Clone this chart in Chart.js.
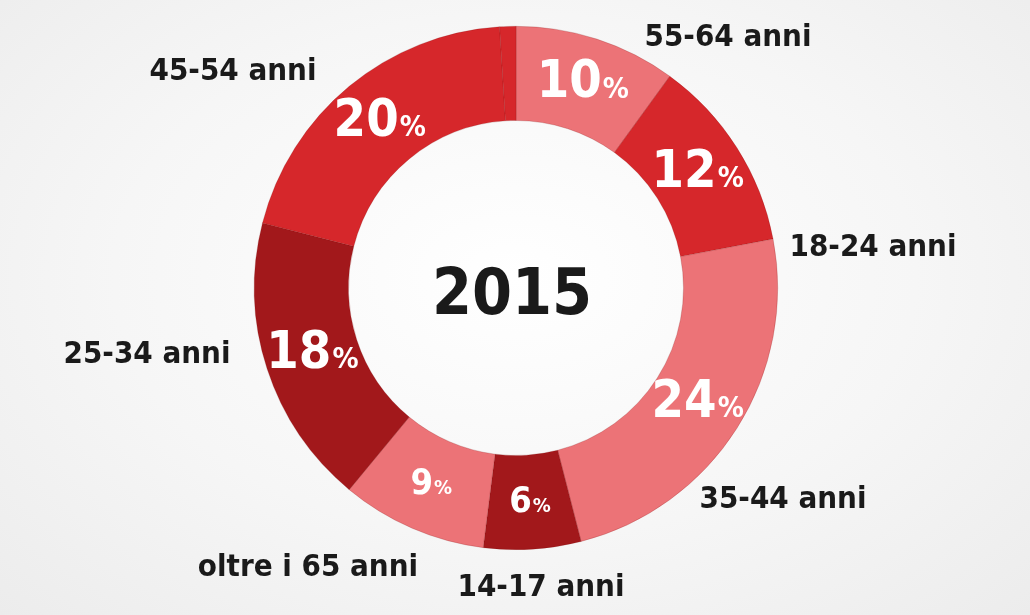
<!DOCTYPE html>
<html><head><meta charset="utf-8">
<script src="https://cdn.jsdelivr.net/npm/chart.js@4"></script>
<style>
html,body{margin:0;padding:0;}
body{width:1030px;height:615px;background:radial-gradient(ellipse at 50% 45%,#ffffff 0%,#f6f6f6 55%,#ececec 100%);}
#c{display:block;}
</style></head><body>
<canvas id="c" width="1030" height="615"></canvas>
<script>
const categories = ["55-64 anni","18-24 anni","35-44 anni","14-17 anni","oltre i 65 anni","25-34 anni","45-54 anni",""];
const values = [10,12,24,6,9,18,20,1];
const colors = ["#ec7377","#d6272b","#ec7377","#a2181b","#ec7377","#a2181b","#d6272b","#d6272b"];
const centerTitle = "2015";
const labelAnchors = [[728,38],[873,248],[783,500],[541,588],[308,568],[147,355],[233,72],null];
const FONT = '"Liberation Sans Narrow","DejaVu Sans Condensed","Roboto",sans-serif';

const textPlugin = {
  id:'texts',
  afterDatasetsDraw(chart){
    const ctx = chart.ctx;
    const meta = chart.getDatasetMeta(0);
    ctx.save();
    ctx.textBaseline='middle';
    meta.data.forEach((arc,i)=>{
      if(!categories[i]) return;
      const p = arc.tooltipPosition();
      const v = String(values[i]);
      const big = values[i]>=10 ? 52 : 36;
      ctx.font = 'bold '+big+'px '+FONT;
      const w1 = ctx.measureText(v).width;
      ctx.font = 'bold '+Math.round(big*0.55)+'px '+FONT;
      const w2 = ctx.measureText('%').width;
      const x0 = p.x-(w1+w2)/2;
      ctx.fillStyle='#ffffff';
      ctx.textAlign='left';
      ctx.font = 'bold '+big+'px '+FONT;
      ctx.fillText(v,x0,p.y);
      ctx.font = 'bold '+Math.round(big*0.55)+'px '+FONT;
      ctx.fillText('%',x0+w1+1,p.y+big*0.12);
      const a = labelAnchors[i];
      ctx.fillStyle='#1a1a1a';
      ctx.textAlign='center';
      ctx.font='bold 31px '+FONT;
      ctx.fillText(categories[i],a[0],a[1]);
    });
    const c = meta.data[0];
    ctx.fillStyle='#1a1a1a';
    ctx.textAlign='center';
    ctx.font='bold 64px '+FONT;
    ctx.fillText(centerTitle,c.x-4,c.y+9);
    ctx.restore();
  }
};

new Chart(document.getElementById('c'),{
  type:'doughnut',
  data:{labels:categories,datasets:[{data:values,backgroundColor:colors,borderWidth:0.6,borderColor:'rgba(120,10,10,0.35)'}]},
  options:{
    responsive:false,animation:false,cutout:'64%',
    layout:{padding:{left:254,right:252,top:26,bottom:65}},
    plugins:{legend:{display:false},tooltip:{enabled:false}}
  },
  plugins:[textPlugin]
});
</script>
</body></html>
